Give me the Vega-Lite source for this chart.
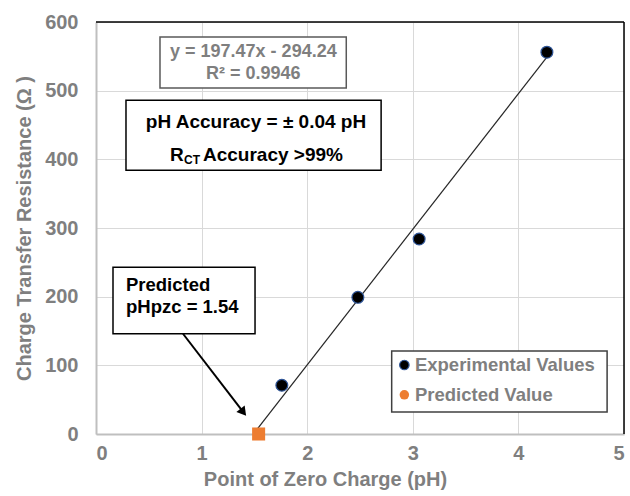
{
  "$schema": "https://vega.github.io/schema/vega-lite/v6.json",
  "width": 528,
  "height": 412,
  "autosize": {"type": "none"},
  "padding": {"left": 96, "top": 22, "right": 6, "bottom": 62},
  "background": "white",
  "config": {
    "view": {"stroke": null},
    "font": "Liberation Sans",
    "axis": {
      "gridColor": "#d9d9d9",
      "gridWidth": 1,
      "domainColor": "#bfbfbf",
      "domainWidth": 2,
      "ticks": false,
      "labelFont": "Liberation Sans",
      "labelFontSize": 20,
      "labelFontWeight": "bold",
      "labelColor": "#7f7f7f",
      "titleFont": "Liberation Sans",
      "titleFontSize": 20,
      "titleFontWeight": "bold",
      "titleColor": "#7f7f7f"
    }
  },
  "encoding": {
    "x": {
      "field": "x", "type": "quantitative",
      "scale": {"domain": [0, 5], "nice": false},
      "axis": {"title": "Point of Zero Charge (pH)", "values": [0, 1, 2, 3, 4, 5], "format": "d", "labelPadding": 9, "titlePadding": 6, "titleX": 229}
    },
    "y": {
      "field": "y", "type": "quantitative",
      "scale": {"domain": [0, 600], "nice": false},
      "axis": {"title": "Charge Transfer Resistance (Ω )", "values": [0, 100, 200, 300, 400, 500, 600], "format": "d", "labelPadding": 18, "titlePadding": 10}
    }
  },
  "layer": [
    {
      "data": {"values": [{"x": 0, "y": 600, "x2": 5, "y2": 600}, {"x": 5, "y": 0, "x2": 5, "y2": 600}]},
      "mark": {"type": "rule", "color": "black", "strokeWidth": 1.5},
      "encoding": {"x2": {"field": "x2"}, "y2": {"field": "y2"}}
    },
    {
      "data": {"values": [{"x": 1.49, "y": 0}, {"x": 4.27, "y": 549}]},
      "mark": {"type": "line", "color": "#262626", "strokeWidth": 1.2},
      "encoding": {}
    },
    {
      "data": {"values": [{"x": 1.76, "y": 71}, {"x": 2.48, "y": 199}, {"x": 3.06, "y": 284}, {"x": 4.27, "y": 556}]},
      "mark": {"type": "point", "shape": "circle", "filled": true, "size": 140, "fill": "black", "stroke": "#2f5597", "strokeWidth": 1.2, "opacity": 1},
      "encoding": {}
    },
    {
      "data": {"values": [{"x": 1.54, "y": 0}]},
      "mark": {"type": "square", "size": 170, "color": "#ed7d31", "opacity": 1},
      "encoding": {}
    },
    {
      "data": {"values": [{"x": 0.606, "y": 578, "x2": 2.37, "y2": 504}]},
      "mark": {"type": "rect", "fill": "white", "stroke": "#595959", "strokeWidth": 1.5},
      "encoding": {"x2": {"field": "x2"}, "y2": {"field": "y2"}}
    },
    {
      "data": {"values": [{"x": 1.49, "y": 556, "t": "y = 197.47x - 294.24"}, {"x": 1.49, "y": 524, "t": "R² = 0.9946"}]},
      "mark": {"type": "text", "align": "center", "baseline": "middle", "fontSize": 18, "fontWeight": "bold", "color": "#7f7f7f"},
      "encoding": {"text": {"field": "t"}}
    },
    {
      "data": {"values": [{"x": 0.284, "y": 486, "x2": 2.7, "y2": 384}]},
      "mark": {"type": "rect", "fill": "white", "stroke": "black", "strokeWidth": 1.5},
      "encoding": {"x2": {"field": "x2"}, "y2": {"field": "y2"}}
    },
    {
      "data": {"values": [{"x": 1.515, "y": 454, "t": "pH Accuracy = ± 0.04 pH"}]},
      "mark": {"type": "text", "align": "center", "baseline": "middle", "fontSize": 19, "fontWeight": "bold", "color": "black"},
      "encoding": {"text": {"field": "t"}}
    },
    {
      "data": {"values": [{"x": 0.70, "y": 397.6, "t": "R"}, {"x": 1.013, "y": 397.6, "t": "Accuracy >99%"}]},
      "mark": {"type": "text", "align": "left", "baseline": "alphabetic", "fontSize": 19, "fontWeight": "bold", "color": "black"},
      "encoding": {"text": {"field": "t"}}
    },
    {
      "data": {"values": [{"x": 0.833, "y": 393.5, "t": "CT"}]},
      "mark": {"type": "text", "align": "left", "baseline": "alphabetic", "fontSize": 12, "fontWeight": "bold", "color": "black"},
      "encoding": {"text": {"field": "t"}}
    },
    {
      "data": {"values": [{"x": 0.161, "y": 243, "x2": 1.506, "y2": 146}]},
      "mark": {"type": "rect", "fill": "white", "stroke": "black", "strokeWidth": 1.5},
      "encoding": {"x2": {"field": "x2"}, "y2": {"field": "y2"}}
    },
    {
      "data": {"values": [{"x": 0.284, "y": 217, "t": "Predicted"}, {"x": 0.284, "y": 185, "t": "pHpzc = 1.54"}]},
      "mark": {"type": "text", "align": "left", "baseline": "middle", "fontSize": 18.5, "fontWeight": "bold", "color": "black"},
      "encoding": {"text": {"field": "t"}}
    },
    {
      "data": {"values": [{"x": 0.824, "y": 146, "x2": 1.395, "y2": 31.7}]},
      "mark": {"type": "rule", "color": "black", "strokeWidth": 2},
      "encoding": {"x2": {"field": "x2"}, "y2": {"field": "y2"}}
    },
    {
      "data": {"values": [{"x": 1.395, "y": 31.7}]},
      "mark": {"type": "point", "shape": "triangle-up", "filled": true, "size": 110, "color": "black", "angle": 142, "opacity": 1},
      "encoding": {}
    },
    {
      "data": {"values": [{"x": 2.80, "y": 121, "x2": 4.84, "y2": 32}]},
      "mark": {"type": "rect", "fill": "white", "stroke": "#404040", "strokeWidth": 1.5},
      "encoding": {"x2": {"field": "x2"}, "y2": {"field": "y2"}}
    },
    {
      "data": {"values": [{"x": 2.92, "y": 100.5}]},
      "mark": {"type": "point", "shape": "circle", "filled": true, "size": 90, "fill": "black", "stroke": "#2f5597", "strokeWidth": 1.2, "opacity": 1},
      "encoding": {}
    },
    {
      "data": {"values": [{"x": 2.92, "y": 57}]},
      "mark": {"type": "point", "shape": "circle", "filled": true, "size": 90, "color": "#ed7d31", "opacity": 1},
      "encoding": {}
    },
    {
      "data": {"values": [{"x": 3.02, "y": 100.5, "t": "Experimental Values"}, {"x": 3.02, "y": 57, "t": "Predicted Value"}]},
      "mark": {"type": "text", "align": "left", "baseline": "middle", "fontSize": 18.5, "fontWeight": "bold", "color": "#7f7f7f"},
      "encoding": {"text": {"field": "t"}}
    }
  ]
}
